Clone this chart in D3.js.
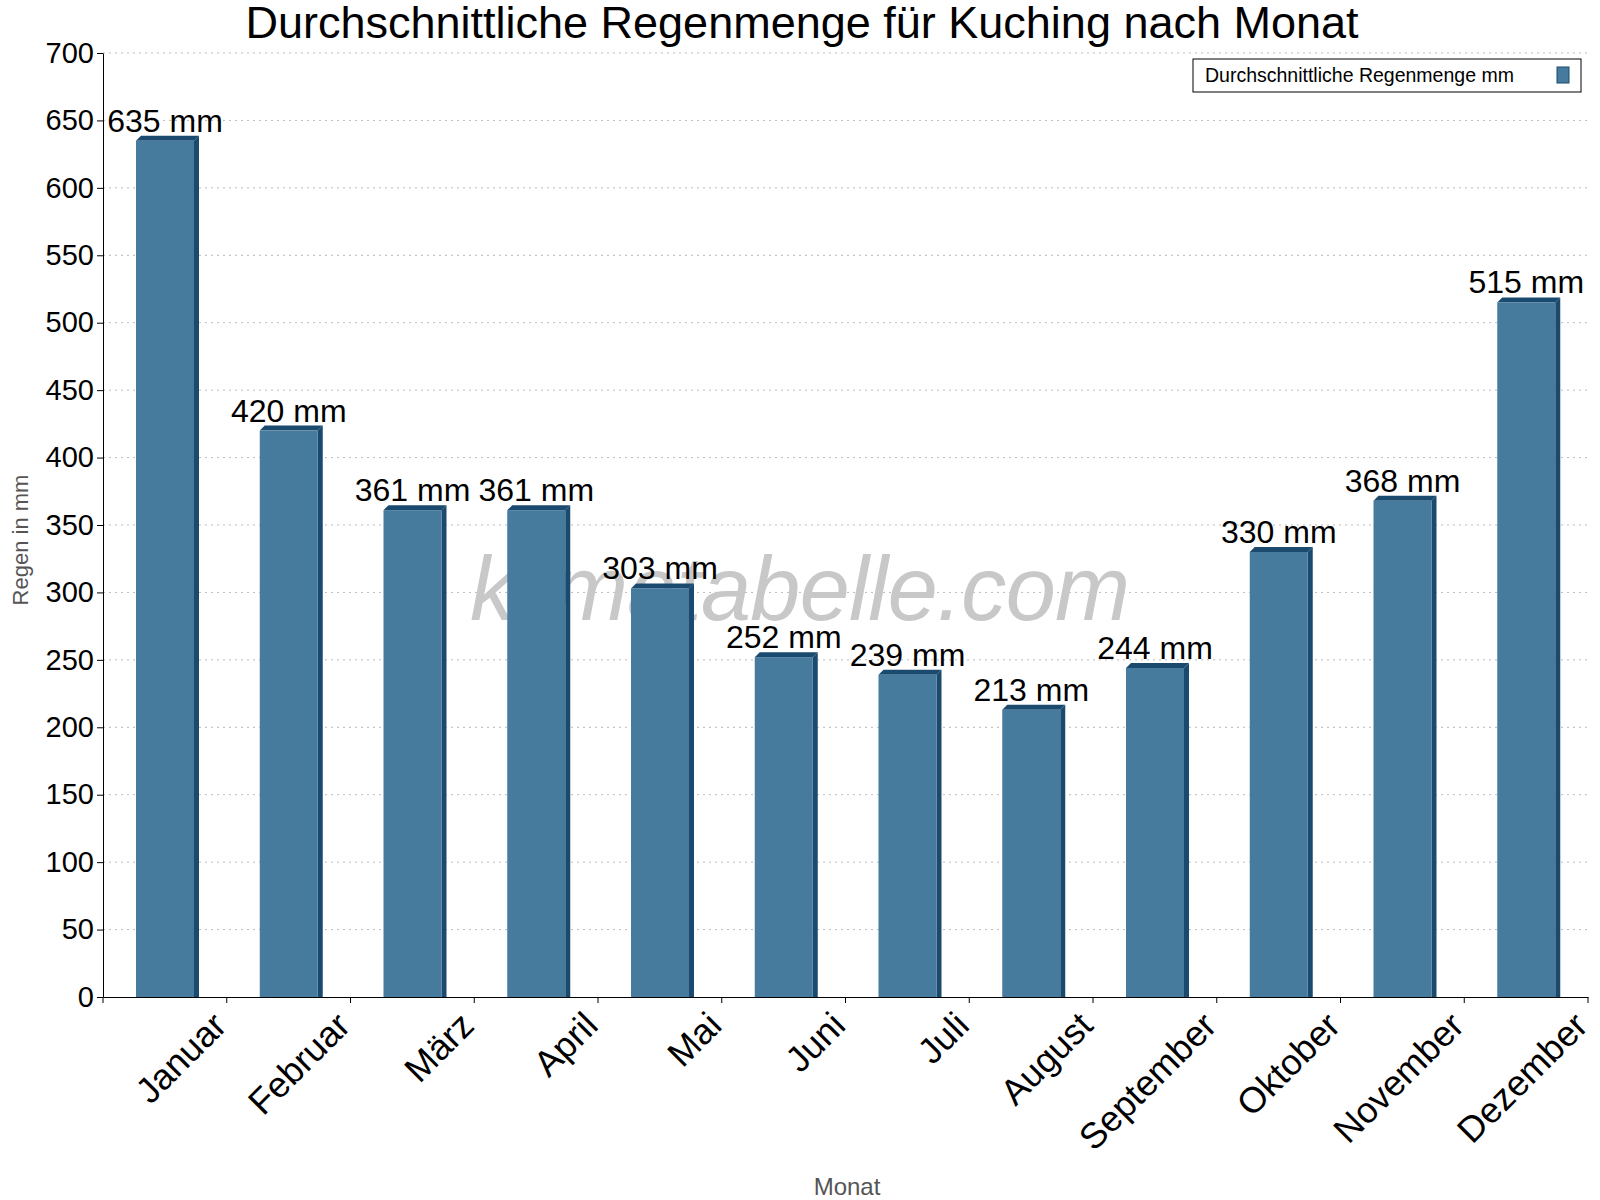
<!DOCTYPE html><html><head><meta charset="utf-8"><script src="https://cdn.jsdelivr.net/npm/d3@7"></script>
<style>body{margin:0;background:#fff}text{font-family:"Liberation Sans",Arial,sans-serif}</style></head><body>
<svg id="c" width="1600" height="1200"></svg>
<script>
const months=["Januar","Februar","März","April","Mai","Juni","Juli","August","September","Oktober","November","Dezember"];
const rain=[635,420,361,361,303,252,239,213,244,330,368,515];
const yTicks=[0,50,100,150,200,250,300,350,400,450,500,550,600,650,700];
const svg=d3.select("#c");
const L=103,R=1588,T=53,B=997;
const x=d3.scaleBand().domain(months).range([L,R]);
const y=d3.scaleLinear().domain([0,700]).range([B,T]);
svg.append("g").selectAll("line").data(yTicks.slice(1)).join("line")
 .attr("x1",L).attr("x2",R).attr("y1",d=>y(d)).attr("y2",d=>y(d))
 .attr("stroke","#bbb").attr("stroke-dasharray","2,4");
svg.append("text").attr("x",800).attr("y",596).attr("text-anchor","middle").attr("dominant-baseline","middle")
 .attr("font-size",90).attr("font-style","italic").attr("fill","#c8c8c8").attr("font-family","DejaVu Sans").attr("font-weight",200).attr("textLength",660).text("klimatabelle.com");
const bw=58,dp=5,off=33;
const g=svg.append("g");
months.forEach((m,i)=>{
 const x0=x(m)+off, yt=y(rain[i]);
 g.append("polygon").attr("points",`${x0+bw},${yt} ${x0+bw+dp},${yt-dp} ${x0+bw+dp},${B} ${x0+bw},${B}`).attr("fill","#1a4a6e");
 g.append("polygon").attr("points",`${x0},${yt} ${x0+dp},${yt-dp} ${x0+bw+dp},${yt-dp} ${x0+bw},${yt}`).attr("fill","#1a4a6e");
 g.append("rect").attr("x",x0).attr("y",yt).attr("width",bw).attr("height",B-yt).attr("fill","#467b9e");
 g.append("text").attr("x",x0+bw/2).attr("y",yt-9).attr("text-anchor","middle").attr("font-size",32).text(rain[i]+" mm");
});
const ya=svg.append("g").attr("transform",`translate(${L},0)`).call(d3.axisLeft(y).tickValues(yTicks).tickSize(6).tickSizeOuter(0));
ya.selectAll("text").attr("font-size",29).attr("fill","#000").attr("font-family","Liberation Sans, Arial");
ya.select(".domain").attr("stroke","#000");
const xa=svg.append("g").attr("transform",`translate(0,${B})`).call(d3.axisBottom(x).tickSize(6).tickSizeOuter(0).tickFormat(""));
xa.selectAll(".tick").attr("transform",(d)=>`translate(${x(d)+x.bandwidth()},0)`);
svg.append("line").attr("x1",L).attr("x2",L).attr("y1",B).attr("y2",B+6).attr("stroke","#000");
svg.append("g").selectAll("text").data(months).join("text")
 .attr("transform",d=>`translate(${x(d)+x.bandwidth()/2+45},${B+12}) rotate(-45)`)
 .attr("text-anchor","end").attr("dominant-baseline","hanging").attr("font-size",36).text(d=>d);
svg.append("text").attr("x",802).attr("y",38).attr("text-anchor","middle").attr("font-size",45).text("Durchschnittliche Regenmenge für Kuching nach Monat");
svg.append("text").attr("transform",`translate(28,${(T+B)/2+15}) rotate(-90)`).attr("text-anchor","middle").attr("font-size",22).attr("fill","#555").text("Regen in mm");
svg.append("text").attr("x",847).attr("y",1195).attr("text-anchor","middle").attr("font-size",24).attr("fill","#555").text("Monat");
svg.append("rect").attr("x",1193).attr("y",59).attr("width",388).attr("height",33).attr("fill","#fff").attr("stroke","#000");
svg.append("text").attr("x",1205).attr("y",82).attr("font-size",19.5).text("Durchschnittliche Regenmenge mm");
svg.append("rect").attr("x",1557).attr("y",67).attr("width",12).attr("height",16).attr("fill","#467b9e").attr("stroke","#1a4a6e");
</script></body></html>
